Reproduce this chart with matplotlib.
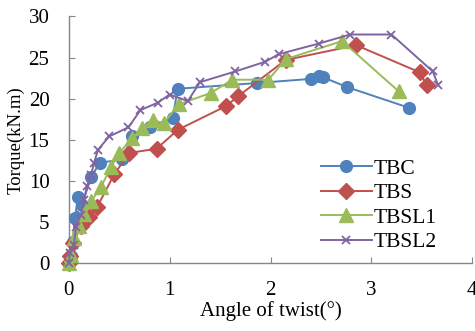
import matplotlib
matplotlib.use("Agg")
import matplotlib.pyplot as plt

plt.rcParams['font.family'] = ['Liberation Serif', 'DejaVu Serif']

tbc_x = [0, 0.02, 0.04, 0.06, 0.09, 0.13, 0.22, 0.31, 0.53, 0.63, 0.8, 1.03, 1.08, 1.87, 2.4, 2.48, 2.52, 2.76, 3.37]
tbc_y = [0, 0.8, 2.5, 5.5, 8.0, 7.0, 10.5, 12.2, 12.6, 15.5, 16.5, 17.7, 21.2, 21.9, 22.4, 22.7, 22.6, 21.4, 18.9]

tbs_x = [0, 0.01, 0.04, 0.12, 0.2, 0.28, 0.45, 0.6, 0.87, 1.08, 1.56, 1.68, 2.15, 2.85, 3.48, 3.55]
tbs_y = [0, 0.8, 2.4, 4.5, 5.6, 6.8, 10.8, 13.4, 13.9, 16.2, 19.1, 20.3, 24.7, 26.5, 23.2, 21.6]

tbsl1_x = [0, 0.02, 0.05, 0.1, 0.15, 0.22, 0.32, 0.42, 0.5, 0.63, 0.73, 0.83, 0.94, 1.09, 1.41, 1.62, 1.98, 2.15, 2.71, 3.27]
tbsl1_y = [0, 1.0, 3.0, 4.5, 6.0, 7.5, 9.3, 11.7, 13.4, 15.2, 16.4, 17.4, 17.0, 19.3, 20.7, 22.3, 22.3, 24.8, 27.0, 20.9]

tbsl2_x = [0, 0.01, 0.05, 0.07, 0.12, 0.15, 0.18, 0.22, 0.25, 0.29, 0.4, 0.59, 0.71, 0.88, 1.0, 1.18, 1.3, 1.65, 1.95, 2.08, 2.48, 2.79, 3.2, 3.61, 3.66]
tbsl2_y = [0, 1.2, 2.2, 4.4, 5.9, 7.7, 9.4, 10.7, 12.2, 13.8, 15.4, 16.5, 18.6, 19.5, 20.5, 19.7, 22.0, 23.3, 24.5, 25.4, 26.7, 27.8, 27.8, 23.3, 21.7]

x_ticks = [0, 1, 2, 3, 4]
y_ticks = [0, 5, 10, 15, 20, 25, 30]

fig = plt.figure(figsize=(4.75, 3.31), dpi=100)
ax = fig.add_axes([0.145, 0.2054, 0.849, 0.745])

ax.plot(tbc_x, tbc_y, color='#4F81BD', marker='o', markersize=8.5, lw=1.4, label='TBC', clip_on=False, zorder=3)
ax.plot(tbs_x, tbs_y, color='#C0504D', marker='D', markersize=8, lw=1.4, label='TBS', clip_on=False, zorder=4)
ax.plot(tbsl1_x, tbsl1_y, color='#9BBB59', marker='^', markersize=10, lw=1.4, label='TBSL1', clip_on=False, zorder=5)
ax.plot(tbsl2_x, tbsl2_y, color='#8064A2', marker='x', markersize=6, mew=1.3, lw=1.4, label='TBSL2', clip_on=False, zorder=6)

ax.set_xlim(0, 4)
ax.set_ylim(0, 30)
ax.set_xticks(x_ticks)
ax.set_yticks(y_ticks)
ax.tick_params(direction='in', length=4, color='#868686', labelsize=15)
ax.tick_params(axis='x', pad=13)
ax.tick_params(axis='y', pad=14)
for s in ['top', 'right']:
    ax.spines[s].set_visible(False)
for s in ['left', 'bottom']:
    ax.spines[s].set_color('#868686')
    ax.spines[s].set_linewidth(1.0)

ax.set_xlabel('Angle of twist(°)', fontsize=15, labelpad=1)
ax.set_ylabel('Torque(kN.m)', fontsize=13.5, labelpad=3)

ax.legend(loc='upper left', bbox_to_anchor=(0.675, 0.52), bbox_transform=fig.transFigure,
          frameon=False, fontsize=15.5, handlelength=2.4, handletextpad=0.05,
          labelspacing=0.2, borderpad=0, borderaxespad=0)

fig.savefig('out.png', dpi=100)
